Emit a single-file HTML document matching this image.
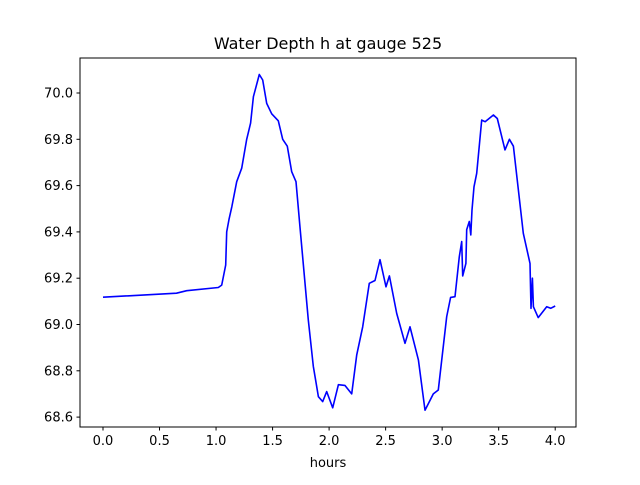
<!DOCTYPE html>
<html><head><meta charset="utf-8"><style>
body{margin:0;background:#fff}
svg text{font-family:"DejaVu Sans","Liberation Sans",sans-serif;fill:#000}
</style></head><body>
<svg id="chart" width="640" height="480" viewBox="0 0 640 480">
<rect width="640" height="480" fill="#fff"/>
<text x="328" y="49" font-size="16" text-anchor="middle">Water Depth h at gauge 525</text>
<g id="plot"></g>
<rect x="80" y="58" width="496" height="369" fill="none" stroke="#000" stroke-width="1"/>
<text x="328" y="467" font-size="13" text-anchor="middle">hours</text>
</svg>
<script>
const hours=[0,0.65,0.74,1.02,1.05,1.085,1.094,1.115,1.14,1.183,1.227,1.271,1.306,1.33,1.383,1.413,1.448,1.492,1.551,1.59,1.63,1.669,1.707,1.743,1.816,1.86,1.905,1.943,1.979,2.032,2.082,2.14,2.2,2.244,2.297,2.356,2.406,2.45,2.503,2.533,2.598,2.671,2.716,2.79,2.848,2.922,2.966,3.04,3.075,3.114,3.152,3.173,3.182,3.21,3.217,3.24,3.253,3.264,3.282,3.306,3.35,3.38,3.453,3.488,3.556,3.595,3.63,3.718,3.777,3.786,3.798,3.807,3.85,3.925,3.96,4.0];
const depth=[69.118,69.135,69.146,69.16,69.17,69.257,69.40,69.456,69.51,69.617,69.675,69.80,69.87,69.984,70.08,70.056,69.955,69.91,69.88,69.80,69.77,69.66,69.617,69.42,69.02,68.82,68.688,68.667,68.71,68.64,68.74,68.737,68.70,68.868,68.99,69.178,69.19,69.28,69.163,69.21,69.048,68.919,68.99,68.847,68.63,68.70,68.717,69.034,69.117,69.12,69.293,69.358,69.21,69.264,69.41,69.445,69.387,69.495,69.595,69.653,69.883,69.876,69.905,69.89,69.754,69.80,69.77,69.394,69.264,69.07,69.20,69.077,69.03,69.077,69.07,69.08];
const xTicks=[0,0.5,1,1.5,2,2.5,3,3.5,4];
const xTickLabels=["0.0","0.5","1.0","1.5","2.0","2.5","3.0","3.5","4.0"];
const yTicks=[68.6,68.8,69.0,69.2,69.4,69.6,69.8,70.0];
const yTickLabels=["68.6","68.8","69.0","69.2","69.4","69.6","69.8","70.0"];
const NS="http://www.w3.org/2000/svg";
const X=v=>103+v*113.05;
const Y=v=>93+(70-v)*231.5;
const g=document.getElementById('plot');
function mk(t,a){const e=document.createElementNS(NS,t);for(const k in a)e.setAttribute(k,a[k]);return e;}
xTicks.forEach((t,i)=>{
  const l=mk('line',{x1:X(t),x2:X(t),y1:427,y2:430.5,stroke:'#000'});
  
  
  g.appendChild(l);
  const tx=mk('text',{x:X(t),y:445,'font-size':13,'text-anchor':'middle'});
  
  
  tx.textContent=xTickLabels[i];g.appendChild(tx);
});
yTicks.forEach((t,i)=>{
  const l=mk('line',{x1:76.5,x2:80,y1:Y(t),y2:Y(t),stroke:'#000'});
  
  
  g.appendChild(l);
  const tx=mk('text',{x:73,y:Y(t)+4.5,'font-size':13,'text-anchor':'end'});
  
  
  tx.textContent=yTickLabels[i];g.appendChild(tx);
});
const pts=hours.map((h,i)=>X(h).toFixed(1)+','+Y(depth[i]).toFixed(1)).join(' ');
const pl=mk('polyline',{points:pts,fill:'none',stroke:'#0000ff','stroke-width':1.6,'stroke-linejoin':'round'});


g.appendChild(pl);
</script>
</body></html>
